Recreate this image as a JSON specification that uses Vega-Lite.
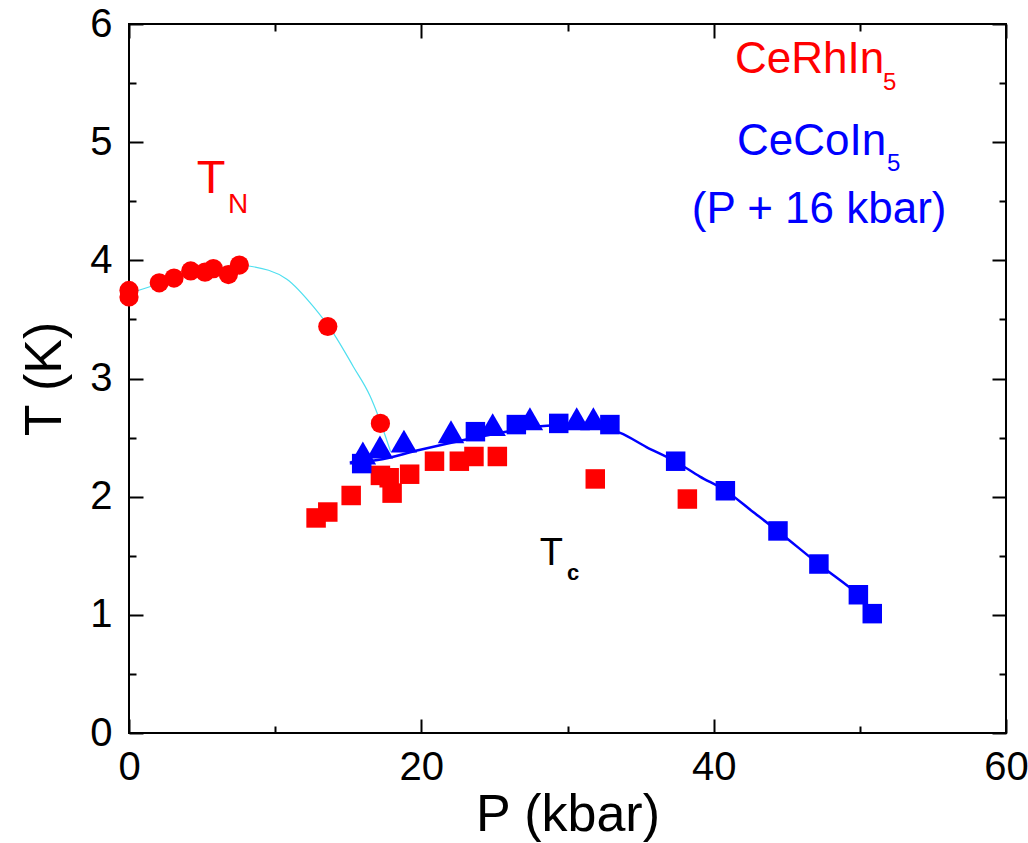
{
  "$schema": "https://vega.github.io/schema/vega-lite/v6.json",
  "width": 877,
  "height": 709,
  "autosize": {"type": "none"},
  "padding": {"left": 129, "top": 24, "right": 22, "bottom": 110},
  "background": "white",
  "config": {
    "view": {"stroke": "black", "strokeWidth": 2},
    "axis": {"grid": false, "domain": false, "labelFont": "Liberation Sans", "titleFont": "Liberation Sans", "tickColor": "black", "tickWidth": 2, "labelColor": "black", "titleColor": "black", "titleFontWeight": "normal", "labelOverlap": false, "labelFlush": false}
  },
  "datasets": {
    "cyanLine": [
      {"P": 0, "T": 3.72}, {"P": 2, "T": 3.80}, {"P": 4, "T": 3.88}, {"P": 6, "T": 3.93}, {"P": 7.5, "T": 3.96},
      {"P": 8.3, "T": 3.95}, {"P": 10.8, "T": 3.84}, {"P": 12.6, "T": 3.61}, {"P": 14.0, "T": 3.38},
      {"P": 15.35, "T": 3.10}, {"P": 16.5, "T": 2.85}, {"P": 17.0, "T": 2.70}, {"P": 17.9, "T": 2.38}
    ],
    "blueLine": [
      {"P": 15.1, "T": 2.29}, {"P": 17.0, "T": 2.31}, {"P": 19.7, "T": 2.39}, {"P": 22.9, "T": 2.48},
      {"P": 25.8, "T": 2.55}, {"P": 28.6, "T": 2.60}, {"P": 31.0, "T": 2.61}, {"P": 32.5, "T": 2.58},
      {"P": 33.6, "T": 2.54}, {"P": 35.4, "T": 2.42}, {"P": 37.35, "T": 2.30}, {"P": 39.06, "T": 2.17},
      {"P": 40.82, "T": 2.05}, {"P": 42.7, "T": 1.87}, {"P": 44.38, "T": 1.71}, {"P": 47.18, "T": 1.43},
      {"P": 49.92, "T": 1.17}, {"P": 50.4, "T": 1.12}
    ],
    "redCircles": [
      {"P": 0, "T": 3.69}, {"P": 0, "T": 3.745}, {"P": 2.07, "T": 3.81}, {"P": 3.08, "T": 3.85},
      {"P": 4.22, "T": 3.91}, {"P": 5.2, "T": 3.90}, {"P": 5.77, "T": 3.93}, {"P": 6.8, "T": 3.88},
      {"P": 7.55, "T": 3.96}, {"P": 13.6, "T": 3.44}, {"P": 17.2, "T": 2.62}
    ],
    "redSquares": [
      {"P": 12.8, "T": 1.82}, {"P": 13.6, "T": 1.87}, {"P": 15.2, "T": 2.01}, {"P": 17.2, "T": 2.18},
      {"P": 17.8, "T": 2.16}, {"P": 18.0, "T": 2.03}, {"P": 19.2, "T": 2.19}, {"P": 20.9, "T": 2.30},
      {"P": 22.6, "T": 2.30}, {"P": 23.6, "T": 2.34}, {"P": 25.2, "T": 2.34}, {"P": 31.9, "T": 2.15},
      {"P": 38.2, "T": 1.98}
    ],
    "blueTriangles": [
      {"P": 16.0, "T": 2.37}, {"P": 17.17, "T": 2.42}, {"P": 18.81, "T": 2.47}, {"P": 22.03, "T": 2.55},
      {"P": 24.88, "T": 2.61}, {"P": 27.43, "T": 2.66}, {"P": 30.63, "T": 2.66}, {"P": 31.77, "T": 2.66}
    ],
    "blueSquares": [
      {"P": 15.92, "T": 2.28}, {"P": 23.7, "T": 2.55}, {"P": 26.5, "T": 2.61}, {"P": 29.4, "T": 2.62},
      {"P": 32.9, "T": 2.61}, {"P": 37.4, "T": 2.30}, {"P": 40.8, "T": 2.05}, {"P": 44.4, "T": 1.71},
      {"P": 47.2, "T": 1.43}, {"P": 49.9, "T": 1.17}, {"P": 50.85, "T": 1.01}
    ],
    "redBig": [{"P": 41.46, "T": 5.585, "label": "CeRhIn"}],
    "redSub": [{"P": 51.58, "T": 5.44, "label": "5"}],
    "blueBig": [{"P": 41.6, "T": 4.89, "label": "CeCoIn"}, {"P": 38.5, "T": 4.32, "label": "(P + 16 kbar)"}],
    "blueSub": [{"P": 51.86, "T": 4.76, "label": "5"}],
    "tnMain": [{"P": 4.63, "T": 4.57, "label": "T"}],
    "tnSub": [{"P": 6.77, "T": 4.40, "label": "N"}],
    "tcMain": [{"P": 28.1, "T": 1.42, "label": "T"}],
    "tcSub": [{"P": 29.97, "T": 1.295, "label": "c"}]
  },
  "layer": [
    {
      "data": {"name": "cyanLine"},
      "mark": {"type": "line", "color": "#4fdfef", "strokeWidth": 1.2, "interpolate": "monotone"},
      "encoding": {
        "x": {"field": "P", "type": "quantitative", "scale": {"domain": [0, 60], "nice": false, "zero": false},
              "axis": {"orient": "bottom", "values": [0, 20, 40, 60], "ticks": false, "labelFontSize": 40, "labelPadding": 14, "title": "P (kbar)", "titleFontSize": 52, "titlePadding": 2}},
        "y": {"field": "T", "type": "quantitative", "scale": {"domain": [0, 6], "nice": false, "zero": false},
              "axis": {"orient": "left", "values": [0, 1, 2, 3, 4, 5, 6], "ticks": false, "labelFontSize": 40, "labelPadding": 17, "title": "T (K)", "titleFontSize": 52, "titlePadding": 18}}
      }
    },
    {
      "data": {"name": "blueLine"},
      "mark": {"type": "line", "color": "#0000ff", "strokeWidth": 2.5, "interpolate": "monotone"},
      "encoding": {
        "x": {"field": "P", "type": "quantitative", "axis": {"orient": "bottom", "values": [0, 20, 40, 60], "labels": false, "tickSize": -14, "title": null}},
        "y": {"field": "T", "type": "quantitative", "axis": {"orient": "left", "values": [0, 1, 2, 3, 4, 5, 6], "labels": false, "tickSize": -14, "title": null}}
      }
    },
    {
      "data": {"name": "redCircles"},
      "mark": {"type": "point", "shape": "circle", "filled": true, "color": "#ff0000", "size": 370, "opacity": 1},
      "encoding": {
        "x": {"field": "P", "type": "quantitative", "axis": {"orient": "top", "values": [0, 20, 40, 60], "labels": false, "tickSize": -14, "title": null}},
        "y": {"field": "T", "type": "quantitative", "axis": {"orient": "right", "values": [0, 1, 2, 3, 4, 5, 6], "labels": false, "tickSize": -14, "title": null}}
      }
    },
    {
      "data": {"name": "redSquares"},
      "mark": {"type": "point", "shape": "square", "filled": true, "color": "#ff0000", "size": 380, "opacity": 1},
      "encoding": {
        "x": {"field": "P", "type": "quantitative", "axis": {"orient": "bottom", "values": [10, 30, 50], "labels": false, "tickSize": -7, "title": null}},
        "y": {"field": "T", "type": "quantitative", "axis": {"orient": "left", "values": [0.5, 1.5, 2.5, 3.5, 4.5, 5.5], "labels": false, "tickSize": -7, "title": null}}
      }
    },
    {
      "data": {"name": "blueTriangles"},
      "mark": {"type": "point", "shape": "triangle-up", "filled": true, "color": "#0000ff", "size": 700, "opacity": 1},
      "encoding": {
        "x": {"field": "P", "type": "quantitative", "axis": {"orient": "top", "values": [10, 30, 50], "labels": false, "tickSize": -7, "title": null}},
        "y": {"field": "T", "type": "quantitative", "axis": {"orient": "right", "values": [0.5, 1.5, 2.5, 3.5, 4.5, 5.5], "labels": false, "tickSize": -7, "title": null}}
      }
    },
    {
      "data": {"name": "blueSquares"},
      "mark": {"type": "point", "shape": "square", "filled": true, "color": "#0000ff", "size": 380, "opacity": 1},
      "encoding": {
        "x": {"field": "P", "type": "quantitative", "axis": null},
        "y": {"field": "T", "type": "quantitative", "axis": null}
      }
    },
    {
      "data": {"name": "redBig"},
      "mark": {"type": "text", "font": "Liberation Sans", "fontSize": 44, "color": "#ff0000", "align": "left", "baseline": "alphabetic"},
      "encoding": {"x": {"field": "P", "type": "quantitative", "axis": null}, "y": {"field": "T", "type": "quantitative", "axis": null}, "text": {"field": "label"}}
    },
    {
      "data": {"name": "redSub"},
      "mark": {"type": "text", "font": "Liberation Sans", "fontSize": 24, "color": "#ff0000", "align": "left", "baseline": "alphabetic"},
      "encoding": {"x": {"field": "P", "type": "quantitative", "axis": null}, "y": {"field": "T", "type": "quantitative", "axis": null}, "text": {"field": "label"}}
    },
    {
      "data": {"name": "blueBig"},
      "mark": {"type": "text", "font": "Liberation Sans", "fontSize": 44, "color": "#0000ff", "align": "left", "baseline": "alphabetic"},
      "encoding": {"x": {"field": "P", "type": "quantitative", "axis": null}, "y": {"field": "T", "type": "quantitative", "axis": null}, "text": {"field": "label"}}
    },
    {
      "data": {"name": "blueSub"},
      "mark": {"type": "text", "font": "Liberation Sans", "fontSize": 24, "color": "#0000ff", "align": "left", "baseline": "alphabetic"},
      "encoding": {"x": {"field": "P", "type": "quantitative", "axis": null}, "y": {"field": "T", "type": "quantitative", "axis": null}, "text": {"field": "label"}}
    },
    {
      "data": {"name": "tnMain"},
      "mark": {"type": "text", "font": "Liberation Sans", "fontSize": 47, "color": "#ff0000", "align": "left", "baseline": "alphabetic"},
      "encoding": {"x": {"field": "P", "type": "quantitative", "axis": null}, "y": {"field": "T", "type": "quantitative", "axis": null}, "text": {"field": "label"}}
    },
    {
      "data": {"name": "tnSub"},
      "mark": {"type": "text", "font": "Liberation Sans", "fontSize": 28, "color": "#ff0000", "align": "left", "baseline": "alphabetic"},
      "encoding": {"x": {"field": "P", "type": "quantitative", "axis": null}, "y": {"field": "T", "type": "quantitative", "axis": null}, "text": {"field": "label"}}
    },
    {
      "data": {"name": "tcMain"},
      "mark": {"type": "text", "font": "Liberation Sans", "fontSize": 38, "color": "#000000", "align": "left", "baseline": "alphabetic"},
      "encoding": {"x": {"field": "P", "type": "quantitative", "axis": null}, "y": {"field": "T", "type": "quantitative", "axis": null}, "text": {"field": "label"}}
    },
    {
      "data": {"name": "tcSub"},
      "mark": {"type": "text", "font": "Liberation Sans", "fontSize": 22, "fontWeight": "bold", "color": "#000000", "align": "left", "baseline": "alphabetic"},
      "encoding": {"x": {"field": "P", "type": "quantitative", "axis": null}, "y": {"field": "T", "type": "quantitative", "axis": null}, "text": {"field": "label"}}
    }
  ],
  "resolve": {"axis": {"x": "independent", "y": "independent"}}
}
